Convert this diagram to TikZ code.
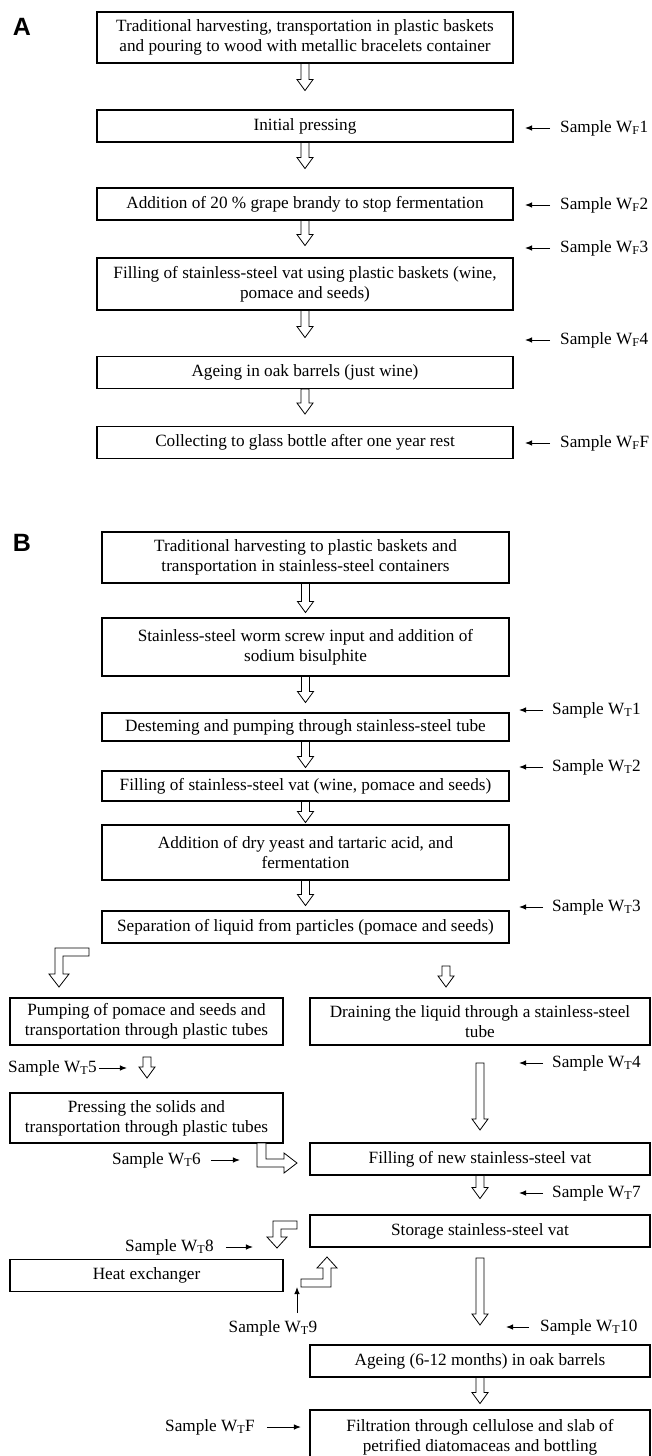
\documentclass[tikz,border=0pt]{standalone}
\usepackage{fontspec}
\setmainfont{Liberation Serif}
\newfontfamily\panelfont{Liberation Sans}
\usetikzlibrary{arrows.meta,calc}

\tikzset{
  stage/.style={draw, line width=1.1pt, align=center, inner sep=0pt, minimum height=32pt, font=\fontsize{17.2}{20}\selectfont},
  stageA/.style={stage, minimum width=416pt},
  stageB/.style={stage, minimum width=407pt},
  stageL/.style={stage, minimum width=273pt},
  stageR/.style={stage, minimum width=340pt},
  sample/.style={anchor=west, inner sep=0pt, font=\fontsize{17.2}{20}\selectfont},
  pointer/.style={-{Latex[length=7pt,width=5.5pt]}, line width=1pt},
  flow/.style={draw, fill=white, line width=0.8pt},
  panel/.style={font=\panelfont\bfseries\fontsize{25}{25}\selectfont}
}

% hollow arrow pointing down from #1, #2 long
\newcommand{\flowdown}[2]{%
  \draw[flow] ($(#1)+(-4,0)$) -- ++(0,#2-11) -- ++(-4,0) -- ++(8,11) -- ++(8,-11) -- ++(-4,0) -- ++(0,11-#2) -- cycle;}
\newcommand{\smp}[1]{Sample W\textsubscript{#1}}

\begin{document}
\begin{tikzpicture}[x=1pt,y=-1pt]
\useasboundingbox (0,0) rectangle (652,1456);
\clip (0,0) rectangle (652,1456);

% panel A
\node[panel] (labA) at (22,27) {A};
\node[stageA, minimum height=51pt] (A1) at (305,37.5) {Traditional harvesting, transportation in plastic baskets\\and pouring to wood with metallic bracelets container};
\node[stageA] (A2) at (305,126) {Initial pressing};
\node[stageA] (A3) at (305,204) {Addition of 20 \% grape brandy to stop fermentation};
\node[stageA, minimum height=52pt] (A4) at (305,284) {Filling of stainless-steel vat using plastic baskets (wine,\\pomace and seeds)};
\node[stageA] (A5) at (305,372.5) {Ageing in oak barrels (just wine)};
\node[stageA] (A6) at (305,442.5) {Collecting to glass bottle after one year rest};

\flowdown{A1.south}{27}
\flowdown{A2.south}{26}
\flowdown{A3.south}{25}
\flowdown{A4.south}{27}
\flowdown{A5.south}{25}

\node[sample] (sF1) at (560,128) {\smp{F}1};
\node[sample] (sF2) at (560,205) {\smp{F}2};
\node[sample] (sF3) at (560,248) {\smp{F}3};
\node[sample] (sF4) at (560,340) {\smp{F}4};
\node[sample] (sFF) at (560,443) {\smp{F}F};
\foreach \s in {sF1,sF2,sF3,sF4,sFF}
  \draw[pointer] ([xshift=-10pt]\s.west) -- ++(-25,0);

% panel B
\node[panel] (labB) at (22,543) {B};
\node[stageB, minimum height=51pt] (B1) at (305.5,557.5) {Traditional harvesting to plastic baskets and\\transportation in stainless-steel containers};
\node[stageB, minimum height=58pt] (B2) at (305.5,647) {Stainless-steel worm screw input and addition of\\sodium bisulphite};
\node[stageB, minimum height=28pt] (B3) at (305.5,727) {Desteming and pumping through stainless-steel tube};
\node[stageB, minimum height=30pt] (B4) at (305.5,786) {Filling of stainless-steel vat (wine, pomace and seeds)};
\node[stageB, minimum height=55pt] (B5) at (305.5,852.5) {Addition of dry yeast and tartaric acid, and\\fermentation};
\node[stageB] (B6) at (305.5,927) {Separation of liquid from particles (pomace and seeds)};

\flowdown{B1.south}{29}
\flowdown{B2.south}{26}
\flowdown{B3.south}{26}
\flowdown{B4.south}{21}
\flowdown{B5.south}{25}

\node[sample] (sT1) at (552,710) {\smp{T}1};
\node[sample] (sT2) at (552,767) {\smp{T}2};
\node[sample] (sT3) at (552,907) {\smp{T}3};
\foreach \s in {sT1,sT2,sT3}
  \draw[pointer] ([xshift=-9pt]\s.west) -- ++(-24,0);

% split of the separation
\draw[flow] (89,948) -- (55,948) -- (55,974) -- (49,974) -- (59,987) -- (69,974) -- (63,974) -- (63,956) -- (89,956) -- cycle;
\coordinate (sp) at (446,966);
\flowdown{sp}{21}

\node[stageL, minimum height=47pt] (L1) at (146.5,1021.5) {Pumping of pomace and seeds and\\transportation through plastic tubes};
\node[stageR, minimum height=47pt] (R1) at (480,1021.5) {Draining the liquid through a stainless-steel\\tube};

\coordinate (pl) at (147,1057);
\flowdown{pl}{21}
\node[sample] (sT5) at (8,1068) {\smp{T}5};
\draw[pointer] ([xshift=2pt]sT5.east) -- ++(28,0);

\coordinate (dr) at (480,1063);
\flowdown{dr}{67}
\node[sample] (sT4) at (552,1063) {\smp{T}4};
\draw[pointer] ([xshift=-9pt]sT4.west) -- ++(-24,0);

\node[stageL, minimum height=50pt] (L2) at (146.5,1118) {Pressing the solids and\\transportation through plastic tubes};
\node[stageR] (R2) at (480,1159) {Filling of new stainless-steel vat};

% pressed liquid to the new vat
\draw[flow] (257,1143) -- (257,1167) -- (284,1167) -- (284,1173) -- (297,1163) -- (284,1153) -- (284,1159) -- (266,1159) -- (266,1143) -- cycle;
\node[sample] (sT6) at (112,1160) {\smp{T}6};
\draw[pointer] ([xshift=10pt]sT6.east) -- ++(29,0);

\flowdown{R2.south}{23}
\node[sample] (sT7) at (552,1193) {\smp{T}7};
\draw[pointer] ([xshift=-9pt]sT7.west) -- ++(-24,0);

\node[stageR] (R3) at (480,1231) {Storage stainless-steel vat};
\node[stageL] (L3) at (146.5,1275.5) {Heat exchanger};

% loop through the heat exchanger
\draw[flow] (297,1221) -- (273,1221) -- (273,1237) -- (267,1237) -- (277,1248) -- (287,1237) -- (281,1237) -- (281,1229) -- (297,1229) -- cycle;
\node[sample] (sT8) at (125,1247) {\smp{T}8};
\draw[pointer] ([xshift=12pt]sT8.east) -- ++(27,0);

\draw[flow] (301,1287) -- (331,1287) -- (331,1268) -- (337,1268) -- (327,1257) -- (317,1268) -- (323,1268) -- (323,1279) -- (301,1279) -- cycle;
\node[anchor=center, inner sep=0pt, font=\fontsize{17.2}{20}\selectfont] (sT9) at (273,1328) {\smp{T}9};
\coordinate (t9) at (297,1313);
\draw[pointer] (t9) -- ++(0,-26);

\coordinate (sr) at (480,1258);
\flowdown{sr}{67}
\node[sample] (sT10) at (540,1327) {\smp{T}10};
\draw[pointer] ([xshift=-11pt]sT10.west) -- ++(-23,0);

\node[stageR] (R4) at (480,1361) {Ageing (6-12 months) in oak barrels};
\flowdown{R4.south}{26}
\node[stageR, minimum height=55pt] (R5) at (480,1437.5) {Filtration through cellulose and slab of\\petrified diatomaceas and bottling};

\node[sample] (sTF) at (165,1427) {\smp{T}F};
\draw[pointer] ([xshift=12pt]sTF.east) -- ++(34,0);
\end{tikzpicture}
\end{document}
